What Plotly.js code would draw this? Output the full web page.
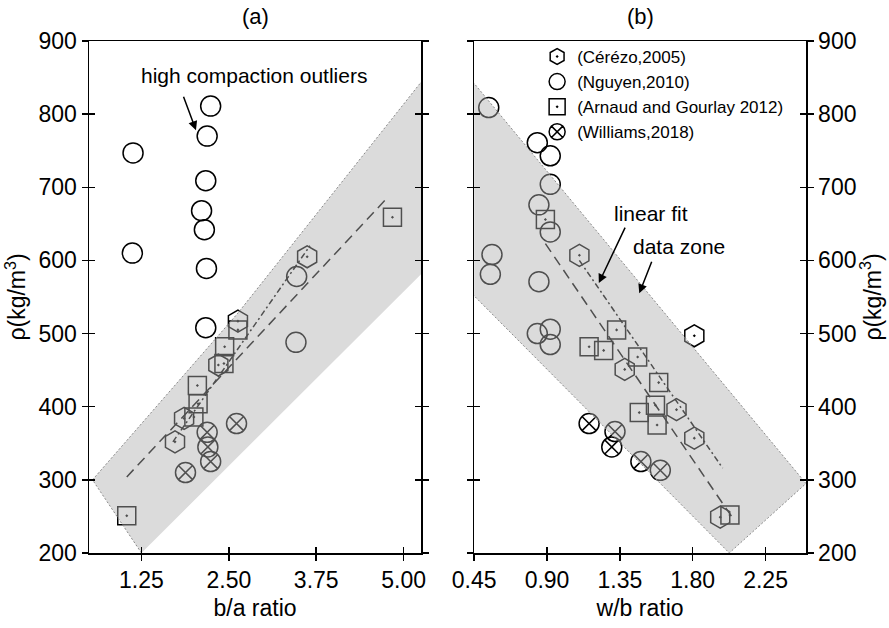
<!DOCTYPE html>
<html><head><meta charset="utf-8">
<script src="https://cdn.plot.ly/plotly-3.0.1.min.js"></script>
<style>html,body{margin:0;padding:0;background:#fff}</style>
</head><body><div id="chart" style="width:889px;height:628px"></div>
<script>
// ---------- Panel (a): b/a ratio ----------
const cerezoAx = [3.62, 2.63, 2.35, 1.86, 1.73];
const cerezoAy = [605, 517, 457, 384, 352];
const nguyenAx = [2.24, 2.19, 1.13, 2.17, 2.11, 2.15, 1.12, 2.18, 2.17, 3.46, 3.47];
const nguyenAy = [811, 770, 747, 709, 668, 642, 610, 589, 508, 488, 578];
const arnaudAx = [4.84, 2.63, 2.44, 2.43, 2.05, 2.06, 2.00, 1.04];
const arnaudAy = [659, 505, 482, 459, 429, 404, 386, 251];
const williamsAx = [2.61, 2.19, 2.20, 2.24, 1.88];
const williamsAy = [377, 365, 345, 325, 310];
const fitDashAx = [1.04, 4.78];
const fitDashAy = [304, 687];
const fitDotAx = [1.70, 3.66];
const fitDotAy = [352, 620];
const zoneAx = [1.25, 0.55, 2.63, 5.5, 5.5];
const zoneAy = [200, 300, 528, 874, 605];

// ---------- Panel (b): w/b ratio ----------
const cerezoBx = [1.10, 1.81, 1.38, 1.70, 1.81, 1.97];
const cerezoBy = [607, 497, 451, 396, 357, 249];
const nguyenBx = [0.54, 0.84, 0.92, 0.92, 0.85, 0.92, 0.56, 0.55, 0.85, 0.84, 0.92, 0.92];
const nguyenBy = [809, 761, 743, 704, 676, 639, 608, 581, 571, 500, 506, 485];
const arnaudBx = [0.89, 1.33, 1.16, 1.25, 1.46, 1.59, 1.57, 1.47, 1.58, 2.03];
const arnaudBy = [656, 505, 482, 477, 468, 433, 402, 392, 375, 252];
const williamsBx = [1.16, 1.32, 1.30, 1.48, 1.60];
const williamsBy = [377, 366, 345, 325, 313];
const fitDashBx = [0.89, 2.04];
const fitDashBy = [623, 250];
const fitDotBx = [1.10, 1.985];
const fitDotBy = [600, 316];
const zoneBx = [0.3, 2.5, 2.026, 0.3];
const zoneBy = [882, 295, 200, 585];

// ---------- labels ----------
const seriesNames = ['(Cérézo,2005)', '(Nguyen,2010)', '(Arnaud and Gourlay 2012)', '(Williams,2018)'];
const panelTitles = ['(a)', '(b)'];
const xTitles = ['b/a ratio', 'w/b ratio'];
const yTitle = 'ρ(kg/m<sup>3</sup>)';

const FONT = 'Arial, "Liberation Sans", sans-serif';
const mk = (sym, size) => ({symbol: sym, size: size, color: 'black', line: {color: 'black', width: 1.5}});
const styles = [
  mk('hexagon-open-dot', 22),
  mk('circle-open', 20),
  mk('square-open-dot', 18),
  mk('circle-x-open', 20)
];

function pts(x, y, i, xa, ya, leg) {
  return {x: x, y: y, type: 'scatter', mode: 'markers', name: seriesNames[i],
    marker: styles[i], xaxis: xa, yaxis: ya, showlegend: leg, cliponaxis: true};
}
function line(x, y, xa, ya, dash) {
  return {x: x, y: y, type: 'scatter', mode: 'lines', xaxis: xa, yaxis: ya, showlegend: false,
    line: {color: 'black', width: 1.5, dash: dash}, hoverinfo: 'skip'};
}
function zone(x, y, xa, ya) {
  return {x: x, y: y, type: 'scatter', mode: 'lines', fill: 'toself', xaxis: xa, yaxis: ya, showlegend: false,
    fillcolor: 'rgba(175,175,175,0.45)', line: {color: '#8a8a8a', width: 1, dash: '2px,2px'}, hoverinfo: 'skip'};
}

const traces = [
  pts(cerezoAx, cerezoAy, 0, 'x', 'y', true),
  pts(nguyenAx, nguyenAy, 1, 'x', 'y', true),
  pts(arnaudAx, arnaudAy, 2, 'x', 'y', true),
  pts(williamsAx, williamsAy, 3, 'x', 'y', true),
  pts(cerezoBx, cerezoBy, 0, 'x2', 'y2', false),
  pts(nguyenBx, nguyenBy, 1, 'x2', 'y2', false),
  pts(arnaudBx, arnaudBy, 2, 'x2', 'y2', false),
  pts(williamsBx, williamsBy, 3, 'x2', 'y2', false),
  line(fitDashAx, fitDashAy, 'x', 'y', '10px,6px'),
  line(fitDotAx, fitDotAy, 'x', 'y', '6px,3px,2px,3px'),
  line(fitDashBx, fitDashBy, 'x2', 'y2', '10px,6px'),
  line(fitDotBx, fitDotBy, 'x2', 'y2', '6px,3px,2px,3px'),
  zone(zoneAx, zoneAy, 'x', 'y'),
  zone(zoneBx, zoneBy, 'x2', 'y2'),
  {x: [], y: [], type: 'scatter', mode: 'markers', xaxis: 'x3', yaxis: 'y3', showlegend: false},
  {x: [], y: [], type: 'scatter', mode: 'markers', xaxis: 'x4', yaxis: 'y4', showlegend: false}
];

const tickFont = {family: FONT, size: 23, color: 'black'};
const titleFont = {family: FONT, size: 23, color: 'black'};
const base = {showgrid: false, zeroline: false, showline: true, linecolor: 'black', linewidth: 1.5,
  ticks: 'outside', ticklen: 6, tickwidth: 1.5, tickcolor: 'black', tickfont: tickFont};
const inner = {showgrid: false, zeroline: false, showline: false, showticklabels: false,
  ticks: 'inside', ticklen: 6, tickwidth: 1.5, tickcolor: 'black'};

const domA = [0, 0.4632], domB = [0.5372, 1];
const layout = {
  width: 889, height: 628,
  margin: {l: 89, r: 83.3, t: 41, b: 75},
  paper_bgcolor: 'white', plot_bgcolor: 'rgba(0,0,0,0)',
  font: {family: FONT, color: 'black'},
  xaxis: Object.assign({}, base, {domain: domA, anchor: 'y', range: [0.5, 5.25], tick0: 0, dtick: 1.25,
    tickformat: '.2f', mirror: true, title: {text: xTitles[0], font: titleFont, standoff: 8}}),
  yaxis: Object.assign({}, base, {domain: [0, 1], anchor: 'x', range: [200, 900], dtick: 100, mirror: 'allticks',
    title: {text: yTitle, font: titleFont, standoff: 6}}),
  xaxis2: Object.assign({}, base, {domain: domB, anchor: 'y2', range: [0.45, 2.5], tick0: 0.45, dtick: 0.45,
    tickformat: '.2f', mirror: true, title: {text: xTitles[1], font: titleFont, standoff: 8}}),
  yaxis2: Object.assign({}, base, {domain: [0, 1], anchor: 'x2', side: 'right', range: [200, 900], dtick: 100,
    mirror: 'allticks', title: {text: yTitle, font: titleFont, standoff: 6}}),
  xaxis3: Object.assign({}, inner, {overlaying: 'x', anchor: 'y3', range: [0.5, 5.25], tick0: 0, dtick: 1.25}),
  yaxis3: Object.assign({}, inner, {overlaying: 'y', anchor: 'x3', range: [200, 900], dtick: 100, mirror: 'allticks'}),
  xaxis4: Object.assign({}, inner, {overlaying: 'x2', anchor: 'y4', range: [0.45, 2.5], tick0: 0.45, dtick: 0.45}),
  yaxis4: Object.assign({}, inner, {overlaying: 'y2', anchor: 'x4', side: 'right', range: [200, 900], dtick: 100, mirror: 'allticks'}),
  showlegend: true,
  legend: {x: 0.625, y: 1.004, xanchor: 'left', yanchor: 'top', bgcolor: 'rgba(0,0,0,0)',
    font: {family: FONT, size: 17, color: 'black'}, tracegroupgap: 0, itemwidth: 30},
  annotations: [
    {text: panelTitles[0], xref: 'paper', yref: 'paper', x: 0.2316, y: 1.047, showarrow: false,
      xanchor: 'center', yanchor: 'middle', font: {family: FONT, size: 22}},
    {text: panelTitles[1], xref: 'paper', yref: 'paper', x: 0.769, y: 1.047, showarrow: false,
      xanchor: 'center', yanchor: 'middle', font: {family: FONT, size: 22}},
    {text: 'high compaction outliers', xref: 'x', yref: 'y', x: 2.866, y: 853.5, showarrow: false,
      xanchor: 'center', yanchor: 'middle', font: {family: FONT, size: 21}},
    {text: '', xref: 'x', yref: 'y', x: 2.03, y: 778, ax: -13, ay: -35, showarrow: true,
      arrowhead: 2, arrowsize: 1.2, arrowwidth: 1.5, arrowcolor: 'black'},
    {text: 'linear fit', xref: 'x2', yref: 'y2', x: 1.544, y: 664.4, showarrow: false,
      xanchor: 'center', yanchor: 'middle', font: {family: FONT, size: 21}},
    {text: '', xref: 'x2', yref: 'y2', x: 1.22, y: 569, ax: 27, ay: -57, showarrow: true,
      arrowhead: 2, arrowsize: 1.2, arrowwidth: 1.5, arrowcolor: 'black'},
    {text: 'data zone', xref: 'x2', yref: 'y2', x: 1.714, y: 619.7, showarrow: false,
      xanchor: 'center', yanchor: 'middle', font: {family: FONT, size: 21}},
    {text: '', xref: 'x2', yref: 'y2', x: 1.47, y: 555, ax: 13, ay: -33, showarrow: true,
      arrowhead: 2, arrowsize: 1.2, arrowwidth: 1.5, arrowcolor: 'black'}
  ]
};

Plotly.newPlot('chart', traces, layout, {displayModeBar: false, staticPlot: true});
</script></body></html>
